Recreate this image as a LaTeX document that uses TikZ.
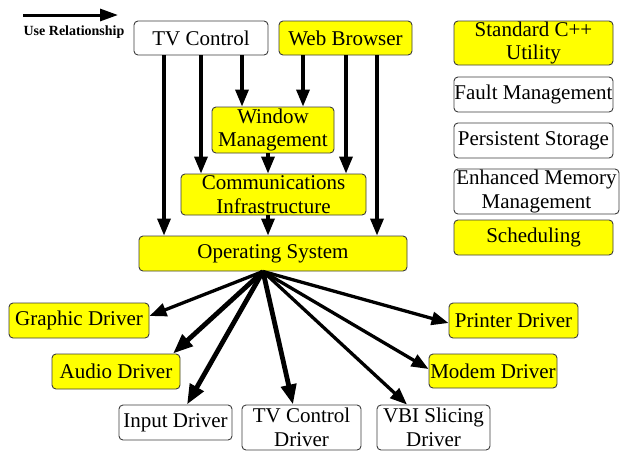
\documentclass[tikz,border=0pt]{standalone}
\usepackage{fontspec}
\setmainfont{Liberation Serif}
\usetikzlibrary{arrows.meta}
\definecolor{boxyellow}{RGB}{255,255,0}
\definecolor{boxline}{RGB}{60,60,60}
\tikzset{
  box/.style={draw=boxline, line width=0.9pt, rounded corners=4pt, inner sep=0pt,
    align=center, font=\fontsize{21}{23.5}\selectfont, fill=white},
  ybox/.style={box, fill=boxyellow},
  use/.style={line width=3.3pt, -{Triangle[length=17pt,width=13pt]}},
  usethick/.style={line width=4.8pt, -{Triangle[length=20pt,width=15pt]}},
}
\begin{document}
\begin{tikzpicture}[x=1pt,y=-1pt]
\useasboundingbox (0,0) rectangle (620,451);

% legend
\coordinate (l1) at (23,15);
\coordinate (l2) at (118,15);
\draw[line width=3pt, -{Triangle[length=18pt,width=12pt]}] (l1) -- (l2);
\node[font=\bfseries\fontsize{14}{16}\selectfont] (legend) at (74,32) {Use Relationship};

% application layer
\node[box,  minimum width=134pt, minimum height=34pt] (tv)   at (201,38)    {TV Control};
\node[ybox, minimum width=133pt, minimum height=34pt] (web)  at (345.5,38)  {Web Browser};
\node[ybox, minimum width=122pt, minimum height=46pt] (win)  at (273,130)   {Window\\Management};
\node[ybox, minimum width=185pt, minimum height=41pt] (comm) at (273.5,194.5) {Communications\\Infrastructure};
\node[ybox, minimum width=268pt, minimum height=35pt] (os)   at (273,253.5) {Operating System};

% utility column
\node[ybox, minimum width=159pt, minimum height=44pt] (std)   at (533.5,43)    {Standard C++\\Utility};
\node[box,  minimum width=159pt, minimum height=35pt] (fault) at (533.5,94.5)  {Fault Management};
\node[box,  minimum width=159pt, minimum height=35pt] (pers)  at (533.5,140.5) {Persistent Storage};
\node[box,  minimum width=165pt, minimum height=45pt] (enh)   at (536.5,191.5) {Enhanced Memory\\Management};
\node[ybox, minimum width=159pt, minimum height=35pt] (sched) at (533.5,237.5) {Scheduling};

% drivers
\node[ybox, minimum width=140pt, minimum height=35pt] (gfx)     at (79,320.5)    {Graphic Driver};
\node[ybox, minimum width=128pt, minimum height=35pt] (audio)   at (116,371.5)   {Audio Driver};
\node[box,  minimum width=113pt, minimum height=35pt] (input)   at (175.5,422.5) {Input Driver};
\node[box,  minimum width=119pt, minimum height=45pt] (tvd)     at (301.5,427.5) {TV Control\\Driver};
\node[box,  minimum width=113pt, minimum height=45pt] (vbi)     at (433.5,427.5) {VBI Slicing\\Driver};
\node[ybox, minimum width=129pt, minimum height=35pt] (printer) at (513.5,320.5) {Printer Driver};
\node[ybox, minimum width=128pt, minimum height=34pt] (modem)   at (493,371)     {Modem Driver};

% uses from TV Control
\coordinate (t1) at ([xshift=-37pt]tv.south);
\coordinate (t2) at (tv.south);
\coordinate (t3) at ([xshift=41pt]tv.south);
\draw[use] (t1) -- (t1 |- os.north);
\draw[use] (t2) -- (t2 |- comm.north);
\draw[use] (t3) -- (t3 |- win.north);

% uses from Web Browser
\coordinate (w1) at ([xshift=-42.5pt]web.south);
\coordinate (w2) at ([xshift=0.5pt]web.south);
\coordinate (w3) at ([xshift=31.5pt]web.south);
\draw[use] (w1) -- (w1 |- win.north);
\draw[use] (w2) -- (w2 |- comm.north);
\draw[use] (w3) -- (w3 |- os.north);

% layered uses
\coordinate (m1) at ([xshift=-5pt]win.south);
\coordinate (m2) at ([xshift=-5.5pt]comm.south);
\draw[use] (m1) -- (m1 |- comm.north);
\draw[use] (m2) -- (m2 |- os.north);

% operating system to drivers
\coordinate (hub) at ([xshift=-10pt]os.south);
\draw[use]      (hub) -- ([yshift=4.5pt]gfx.east);
\draw[usethick] (hub) -- ([xshift=57pt]audio.north);
\draw[usethick] (hub) -- ([xshift=11.5pt]input.north);
\draw[usethick] (hub) -- ([xshift=-8.5pt]tvd.north);
\draw[use]      (hub) -- ([xshift=-26.5pt]vbi.north);
\draw[use]      (hub) -- ([yshift=2pt]modem.west);
\draw[use]      (hub) -- ([yshift=-2.5pt]printer.west);
\end{tikzpicture}
\end{document}
